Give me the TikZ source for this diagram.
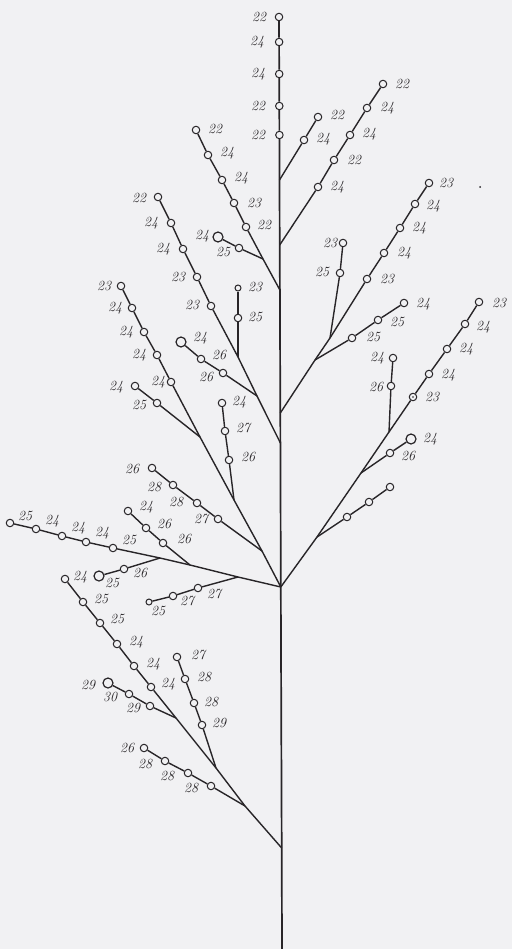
\documentclass[tikz,border=0pt]{standalone}
\usepackage{tikz}
\definecolor{bgc}{RGB}{241,241,243}
\definecolor{ink}{RGB}{40,37,40}
\tikzset{
  bud/.style={circle,draw=ink,fill=bgc,line width=1pt,inner sep=0pt,minimum size=7.5pt},
  big/.style={minimum size=10pt,line width=1.2pt},
  lab/.style={text=ink,font=\fontsize{14}{14}\selectfont\itshape,inner sep=0pt},
  br/.style={draw=ink,line width=1.4pt},
  stemline/.style={draw=ink,line width=1.7pt}
}
\newcommand{\bud}[5][]{\node[bud,#1] (#2) at (#3) {}; \node[lab] (#2t) at (#4) {#5};}
\begin{document}
\begin{tikzpicture}[x=1pt,y=-1pt]
\fill[bgc] (0,0) rectangle (512,949);
\useasboundingbox (0,0) rectangle (512,949);
% stem coordinates
\coordinate (jA) at (279.5,180);
\coordinate (jB) at (279.7,245);
\coordinate (jC) at (279.9,290);
\coordinate (jE) at (280.3,413);
\coordinate (jD) at (280.4,443);
\coordinate (jH) at (280.8,587);
\coordinate (jW) at (281.7,848);
\coordinate (bot) at (282,949);
% top stem
\bud{s1}{279,17}{259,17}{22}
\bud{s2}{279.1,42}{257,42}{24}
\bud{s3}{279.2,74}{258,74}{24}
\bud{s4}{279.3,106}{258,106}{22}
\bud{s5}{279.4,135}{258,135}{22}
\draw[stemline] (s1) -- (s2) -- (s3) -- (s4) -- (s5) -- (jA) -- (jB) -- (jC) -- (jE) -- (jD) -- (jH) -- (jW) -- (bot);
% branch A
\bud{a1}{304,140}{323,139}{24}
\bud{a2}{318,117}{337,115}{22}
\draw[br] (jA) -- (a1) -- (a2);
% branch B
\bud{b1}{318,187}{337,187}{24}
\bud{b2}{334,160}{354,160}{22}
\bud{b3}{350,135}{369,134}{24}
\bud{b4}{367,108}{387,108}{24}
\bud{b5}{383,84}{402,84}{22}
\draw[br] (jB) -- (b1) -- (b2) -- (b3) -- (b4) -- (b5);
% branch C
\coordinate (cj) at (263,259);
\bud{c1}{246,227}{264,225}{22}
\bud{c2}{234,203}{254,203}{23}
\bud{c3}{222,180}{241,178}{24}
\bud{c4}{208,155}{227,153}{24}
\bud{c5}{196,130}{215,129}{22}
\draw[br] (jC) -- (cj) -- (c1) -- (c2) -- (c3) -- (c4) -- (c5);
\bud{cs1}{239,248}{223,252}{25}
\bud[big]{cs2}{218,237}{202,236}{24}
\draw[br] (cj) -- (cs1) -- (cs2);
% branch D
\coordinate (dj1) at (257,396);
\coordinate (dj2) at (238,357);
\bud{d1}{211,306}{192,305}{23}
\bud{d2}{197,277}{178,277}{23}
\bud{d3}{183,249}{163,249}{24}
\bud{d4}{171,223}{151,223}{24}
\bud{d5}{158,197}{139,198}{22}
\draw[br] (jD) -- (dj1) -- (dj2) -- (d1) -- (d2) -- (d3) -- (d4) -- (d5);
\bud{dv1}{238,318}{255,317}{25}
\bud[minimum size=6pt]{dv2}{238,288}{255,287}{23}
\draw[br] (dj2) -- (dv1) -- (dv2);
\bud{de1}{223,373}{206,377}{26}
\bud{de2}{201,359}{219,355}{26}
\bud[big]{de3}{181,342}{200,338}{24}
\draw[br] (dj1) -- (de1) -- (de2) -- (de3);
% branch E
\coordinate (eJ1) at (315,360);
\coordinate (eJ2) at (330,338);
\draw[br] (jE) -- (eJ1) -- (eJ2);
\bud{e1}{340,273}{322,272}{25}
\bud{e2}{343,243}{330,243}{23}
\draw[br] (eJ2) -- (e1) -- (e2);
\bud{f1}{367,279}{387,279}{23}
\bud{f2}{384,253}{404,253}{24}
\bud{f3}{400,228}{419,228}{24}
\bud{f4}{415,204}{433,206}{24}
\bud{f5}{429,183}{446,183}{23}
\draw[br] (eJ2) -- (f1) -- (f2) -- (f3) -- (f4) -- (f5);
\bud{g1}{352,338}{373,337}{25}
\bud{g2}{378,320}{397,322}{25}
\bud{g3}{404,303}{423,304}{24}
\draw[br] (eJ1) -- (g1) -- (g2) -- (g3);
\fill[ink] (480,187) circle (1pt);
% branch H
\coordinate (hJ1) at (317,537);
\coordinate (hJ2) at (361,473);
\coordinate (hJ3) at (389,432);
\bud{h1}{413,397}{432,397}{23}
\fill[ink] (h1) circle (0.9pt);
\bud{h2}{429,374}{448,375}{24}
\bud{h3}{447,349}{466,349}{24}
\bud{h4}{465,324}{483,327}{24}
\bud{h5}{479,302}{499,303}{23}
\draw[br] (jH) -- (hJ1) -- (hJ2) -- (hJ3) -- (h1) -- (h2) -- (h3) -- (h4) -- (h5);
\bud{hv1}{391,386}{376,387}{26}
\bud{hv2}{393,358}{377,358}{24}
\draw[br] (hJ3) -- (hv1) -- (hv2);
\bud{hs1}{390,453}{408,456}{26}
\bud[big]{hs2}{411,439}{430,439}{24}
\draw[br] (hJ2) -- (hs1) -- (hs2);
\node[bud] (hu1) at (347,517) {};
\node[bud] (hu2) at (369,502) {};
\node[bud] (hu3) at (390,487) {};
\draw[br] (hJ1) -- (hu1) -- (hu2) -- (hu3);
% long left branch L
\coordinate (lJ1) at (238,577);
\coordinate (lJ2) at (190,565);
\coordinate (lJ3) at (160,558);
\bud{l1}{113,548}{129,540}{25}
\bud{l2}{86,542}{102,533}{24}
\bud{l3}{62,536}{78,528}{24}
\bud{l4}{36,529}{52,521}{24}
\bud{l5}{10,523}{25,516}{25}
\draw[br] (jH) -- (lJ1) -- (lJ2) -- (lJ3) -- (l1) -- (l2) -- (l3) -- (l4) -- (l5);
\bud{m1}{198,588}{214,594}{27}
\bud{m2}{173,596}{187,601}{27}
\bud[minimum size=6pt]{m3}{149,602}{158,611}{25}
\draw[br] (lJ1) -- (m1) -- (m2) -- (m3);
\bud{n1}{163,543}{184,539}{26}
\bud{n2}{146,528}{164,524}{26}
\bud{n3}{128,511}{146,507}{24}
\draw[br] (lJ2) -- (n1) -- (n2) -- (n3);
\bud{o1}{124,569}{140,573}{26}
\bud[big]{o2}{99,576}{112,583}{25}
\draw[br] (lJ3) -- (o1) -- (o2);
% diagonal branch P
\coordinate (pJ1) at (262,551);
\coordinate (pJ2) at (234,500);
\coordinate (pJ3) at (200,437);
\bud{p1}{171,382}{158,382}{24}
\bud{p2}{157,355}{139,355}{24}
\bud{p3}{144,332}{126,332}{24}
\bud{p4}{132,308}{115,308}{24}
\bud{p5}{121,286}{104,286}{23}
\draw[br] (jH) -- (pJ1) -- (pJ2) -- (pJ3) -- (p1) -- (p2) -- (p3) -- (p4) -- (p5);
\bud{q1}{157,403}{139,405}{25}
\bud{q2}{135,386}{116,387}{24}
\draw[br] (pJ3) -- (q1) -- (q2);
\bud{r1}{229,460}{248,457}{26}
\bud{r2}{225,431}{243,428}{27}
\bud{r3}{222,403}{239,402}{24}
\draw[br] (pJ2) -- (r1) -- (r2) -- (r3);
\bud{t1}{218,519}{201,519}{27}
\bud{t2}{197,503}{176,502}{28}
\bud{t3}{173,485}{154,487}{28}
\bud{t4}{152,468}{132,469}{26}
\draw[br] (pJ1) -- (t1) -- (t2) -- (t3) -- (t4);
% lower branch W
\coordinate (wJ1) at (245,806);
\coordinate (wJ2) at (216,768);
\coordinate (wJ3) at (176,718);
\bud{w1}{151,687}{168,684}{24}
\bud{w2}{134,666}{153,664}{24}
\bud{w3}{117,644}{136,642}{24}
\bud{w4}{100,623}{117,619}{25}
\bud{w5}{83,602}{101,599}{25}
\bud{w6}{65,579}{80,577}{24}
\draw[br] (jW) -- (wJ1) -- (wJ2) -- (wJ3) -- (w1) -- (w2) -- (w3) -- (w4) -- (w5) -- (w6);
\bud{x1}{150,706}{133,708}{29}
\bud{x2}{129,694}{110,697}{30}
\bud[big]{x3}{108,683}{88,685}{29}
\draw[br] (wJ3) -- (x1) -- (x2) -- (x3);
\bud{y1}{202,725}{219,723}{29}
\bud{y2}{194,703}{211,702}{28}
\bud{y3}{185,679}{204,677}{28}
\bud{y4}{177,657}{198,655}{27}
\draw[br] (wJ2) -- (y1) -- (y2) -- (y3) -- (y4);
\bud{z1}{211,786}{191,788}{28}
\bud{z2}{188,773}{167,776}{28}
\bud{z3}{165,761}{145,764}{28}
\bud{z4}{144,748}{127,748}{26}
\draw[br] (wJ1) -- (z1) -- (z2) -- (z3) -- (z4);
\end{tikzpicture}
\end{document}
